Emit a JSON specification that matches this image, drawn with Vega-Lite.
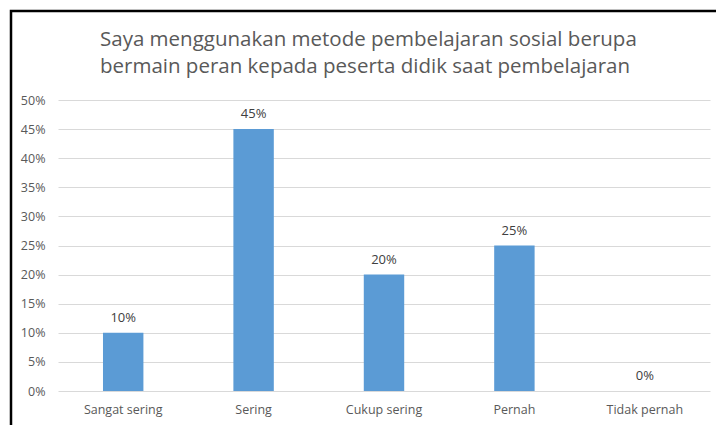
{
  "$schema": "https://vega.github.io/schema/vega-lite/v6.json",
  "usermeta": {"embedOptions": {"actions": false}},
  "width": 730,
  "height": 440,
  "autosize": {"type": "none"},
  "padding": {"left": 11, "top": 11, "right": -25, "bottom": -26},
  "background": "white",
  "title": {
    "text": ["Saya menggunakan metode pembelajaran sosial berupa", "bermain peran kepada peserta didik saat pembelajaran"],
    "offset": -66,
    "anchor": "start",
    "dx": 89,
    "frame": "group",
    "font": "Open Sans",
    "fontSize": 20.5,
    "fontWeight": "normal",
    "color": "#595959",
    "lineHeight": 27
  },
  "data": {
    "values": [
      {"kategori": "Sangat sering", "persen": 0.10},
      {"kategori": "Sering", "persen": 0.45},
      {"kategori": "Cukup sering", "persen": 0.20},
      {"kategori": "Pernah", "persen": 0.25},
      {"kategori": "Tidak pernah", "persen": 0.0}
    ]
  },
  "encoding": {
    "x": {
      "field": "kategori",
      "type": "nominal",
      "sort": null,
      "scale": {"range": [47, 699], "paddingInner": 0.69, "paddingOuter": 0.345},
      "axis": {
        "orient": "bottom",
        "offset": -60,
        "domain": false,
        "ticks": false,
        "grid": false,
        "labelPadding": 12,
        "labelAngle": 0,
        "title": null,
        "labelColor": "#595959",
        "labelFont": "Open Sans",
        "labelFontSize": 12.5
      }
    },
    "y": {
      "field": "persen",
      "type": "quantitative",
      "scale": {"domain": [0, 0.5], "range": [380, 89], "nice": false},
      "axis": {
        "orient": "left",
        "offset": -47,
        "format": ".0%",
        "values": [0, 0.05, 0.1, 0.15, 0.2, 0.25, 0.3, 0.35, 0.4, 0.45, 0.5],
        "domain": false,
        "ticks": false,
        "labelPadding": 13,
        "grid": true,
        "gridColor": "#D9D9D9",
        "gridWidth": 1,
        "title": null,
        "labelColor": "#595959",
        "labelFont": "Open Sans",
        "labelFontSize": 12.5
      }
    }
  },
  "layer": [
    {"mark": {"type": "bar", "color": "#5B9BD5"}},
    {
      "mark": {"type": "text", "dy": -15, "baseline": "middle", "font": "Open Sans", "fontSize": 13, "color": "#404040"},
      "encoding": {"text": {"field": "persen", "type": "quantitative", "format": ".0%"}}
    }
  ],
  "config": {"view": {"stroke": "black", "strokeWidth": 2.5}}
}
